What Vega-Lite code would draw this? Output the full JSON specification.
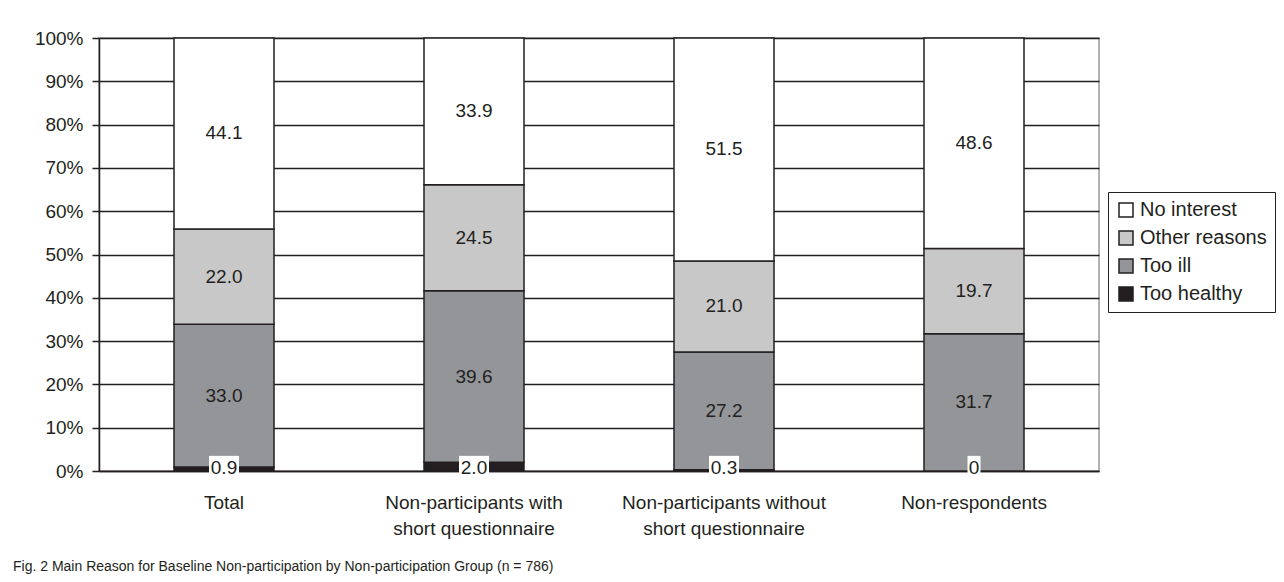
{
  "$schema": "https://vega.github.io/schema/vega-lite/v6.json",
  "width": 1000,
  "height": 433,
  "autosize": "none",
  "padding": {"left": 99, "top": 38, "right": 185, "bottom": 111},
  "background": "white",
  "config": {"font": "Liberation Sans", "view": {"stroke": "#9a9a9a", "strokeWidth": 1.5}},
  "title": {
    "text": "Fig. 2 Main Reason for Baseline Non-participation by Non-participation Group (n = 786)",
    "orient": "bottom",
    "anchor": "start",
    "frame": "group",
    "font": "Liberation Sans",
    "fontSize": 14,
    "fontWeight": "normal",
    "color": "#231f20",
    "dx": -86,
    "offset": 22
  },
  "data": {
    "values": [
      {"group": "Total", "reason": "Too healthy", "order": 1, "value": 0.9},
      {"group": "Total", "reason": "Too ill", "order": 2, "value": 33.0},
      {"group": "Total", "reason": "Other reasons", "order": 3, "value": 22.0},
      {"group": "Total", "reason": "No interest", "order": 4, "value": 44.1},
      {"group": "Non-participants with short questionnaire", "reason": "Too healthy", "order": 1, "value": 2.0},
      {"group": "Non-participants with short questionnaire", "reason": "Too ill", "order": 2, "value": 39.6},
      {"group": "Non-participants with short questionnaire", "reason": "Other reasons", "order": 3, "value": 24.5},
      {"group": "Non-participants with short questionnaire", "reason": "No interest", "order": 4, "value": 33.9},
      {"group": "Non-participants without short questionnaire", "reason": "Too healthy", "order": 1, "value": 0.3},
      {"group": "Non-participants without short questionnaire", "reason": "Too ill", "order": 2, "value": 27.2},
      {"group": "Non-participants without short questionnaire", "reason": "Other reasons", "order": 3, "value": 21.0},
      {"group": "Non-participants without short questionnaire", "reason": "No interest", "order": 4, "value": 51.5},
      {"group": "Non-respondents", "reason": "Too healthy", "order": 1, "value": 0},
      {"group": "Non-respondents", "reason": "Too ill", "order": 2, "value": 31.7},
      {"group": "Non-respondents", "reason": "Other reasons", "order": 3, "value": 19.7},
      {"group": "Non-respondents", "reason": "No interest", "order": 4, "value": 48.6}
    ]
  },
  "layer": [
    {
      "mark": {"type": "bar", "size": 100, "stroke": "#231f20", "strokeWidth": 1.5},
      "encoding": {
        "x": {
          "field": "group",
          "type": "nominal",
          "sort": ["Total", "Non-participants with short questionnaire", "Non-participants without short questionnaire", "Non-respondents"],
          "scale": {"paddingInner": 0, "paddingOuter": 0},
          "axis": {
            "title": null,
            "labelAngle": 0,
            "tickSize": 6,
            "tickOpacity": 0,
            "domainColor": "#231f20",
            "domainWidth": 1.5,
            "labelFontSize": 19,
            "labelColor": "#231f20",
            "labelPadding": 16,
            "labelLineHeight": 26,
            "labelLimit": 0,
            "labelExpr": "indexof(datum.value, ' short') > 0 ? [slice(datum.value, 0, indexof(datum.value, ' short')), slice(datum.value, indexof(datum.value, ' short') + 1)] : datum.value"
          }
        },
        "y": {
          "field": "value",
          "type": "quantitative",
          "stack": "zero",
          "scale": {"domain": [0, 100], "nice": false},
          "axis": {
            "title": null,
            "values": [0, 10, 20, 30, 40, 50, 60, 70, 80, 90, 100],
            "labelExpr": "datum.value + '%'",
            "tickSize": 7,
            "tickColor": "#231f20",
            "tickWidth": 1.5,
            "domainColor": "#231f20",
            "domainWidth": 1.5,
            "gridColor": "#231f20",
            "gridWidth": 1.5,
            "labelFontSize": 19,
            "labelColor": "#231f20",
            "labelPadding": 9
          }
        },
        "order": {"field": "order", "type": "quantitative", "sort": "ascending"},
        "color": {
          "field": "reason",
          "type": "nominal",
          "sort": ["No interest", "Other reasons", "Too ill", "Too healthy"],
          "scale": {"domain": ["No interest", "Other reasons", "Too ill", "Too healthy"], "range": ["#ffffff", "#c8c8c8", "#939598", "#231f20"]},
          "legend": {
            "title": null,
            "orient": "none",
            "legendX": 1009,
            "legendY": 154,
            "symbolType": "square",
            "symbolSize": 196,
            "symbolStrokeColor": "#231f20",
            "symbolStrokeWidth": 1.5,
            "labelFontSize": 20,
            "labelColor": "#231f20",
            "labelOffset": 4,
            "strokeColor": "#231f20",
            "fillColor": "white",
            "padding": 8,
            "rowPadding": 8
          }
        }
      }
    },
    {
      "mark": {"type": "text", "fontSize": 19, "baseline": "middle"},
      "encoding": {
        "x": {"field": "group", "type": "nominal", "sort": ["Total", "Non-participants with short questionnaire", "Non-participants without short questionnaire", "Non-respondents"]},
        "y": {"field": "value", "type": "quantitative", "stack": "zero", "bandPosition": 0.5},
        "order": {"field": "order", "type": "quantitative", "sort": "ascending"},
        "color": {
          "field": "reason",
          "type": "nominal",
          "sort": ["No interest", "Other reasons", "Too ill", "Too healthy"],
          "scale": {"domain": ["No interest", "Other reasons", "Too ill", "Too healthy"], "range": ["#231f20", "#231f20", "#231f20", "rgba(0,0,0,0)"]},
          "legend": null
        },
        "text": {"field": "value", "type": "quantitative", "format": ".1f"}
      }
    },
    {
      "transform": [{"filter": "datum.reason === 'Too healthy' && datum.value > 0"}],
      "mark": {"type": "bar", "fill": "white", "size": 30, "clip": false},
      "encoding": {
        "x": {"field": "group", "type": "nominal", "sort": ["Total", "Non-participants with short questionnaire", "Non-participants without short questionnaire", "Non-respondents"]},
        "y": {"datum": 3.5},
        "y2": {"datum": -1.3}
      }
    },
    {
      "transform": [{"filter": "datum.reason === 'Too healthy' && datum.value === 0"}],
      "mark": {"type": "bar", "fill": "white", "size": 13, "clip": false},
      "encoding": {
        "x": {"field": "group", "type": "nominal", "sort": ["Total", "Non-participants with short questionnaire", "Non-participants without short questionnaire", "Non-respondents"]},
        "y": {"datum": 3.5},
        "y2": {"datum": -1.3}
      }
    },
    {
      "transform": [{"filter": "datum.reason === 'Too healthy'"}],
      "mark": {"type": "text", "fontSize": 19, "baseline": "middle", "color": "#231f20", "clip": false},
      "encoding": {
        "x": {"field": "group", "type": "nominal", "sort": ["Total", "Non-participants with short questionnaire", "Non-participants without short questionnaire", "Non-respondents"]},
        "y": {"datum": 0.6},
        "text": {"condition": {"test": "datum.value === 0", "value": "0"}, "field": "value", "type": "quantitative", "format": ".1f"}
      }
    }
  ],
  "resolve": {"scale": {"color": "independent"}}
}
